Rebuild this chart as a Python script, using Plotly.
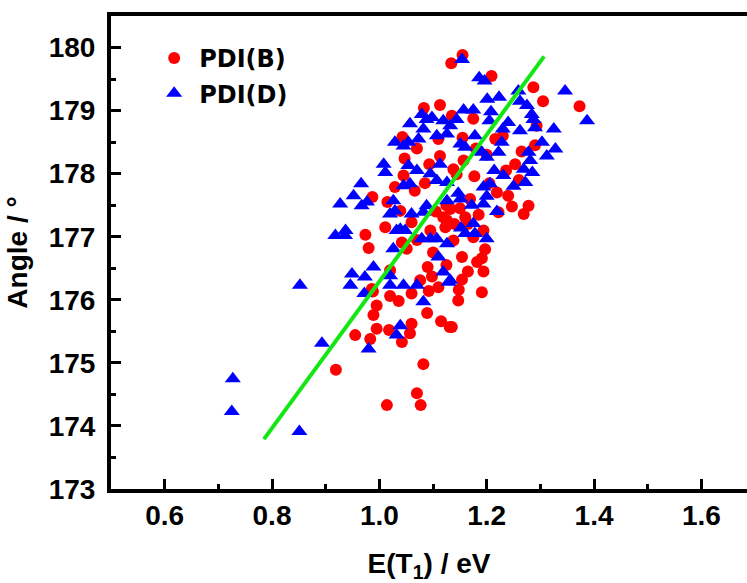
import plotly.graph_objects as go

# PDI(B) — red circles
b_x = [1.155, 1.134, 1.209, 1.287, 1.305, 1.373, 1.113, 1.083, 1.175, 1.293,
       1.043, 1.110, 1.155, 1.216, 1.290, 1.047, 1.113, 1.093, 1.138, 1.177,
       1.253, 1.236, 1.029, 1.066, 0.987, 1.015, 1.039, 1.132, 1.119, 1.219,
       1.247, 1.278, 1.269, 1.160, 1.011, 1.060, 1.095, 1.123, 1.138, 1.194,
       0.974, 0.980, 1.042, 1.051, 1.197, 1.191, 1.182, 1.154, 1.090, 1.098,
       1.076, 1.194, 1.154, 1.191, 1.148, 1.110, 1.092, 1.020, 1.036, 0.988,
       0.995, 0.989, 0.995, 0.955, 0.983, 1.018, 1.060, 1.057, 1.042, 1.089,
       1.115, 1.131, 1.082, 0.919, 1.070, 1.077, 1.014, 1.144, 1.169, 1.222,
       1.175, 1.147, 1.135, 1.135, 1.157, 1.045, 1.020, 0.986, 1.126, 1.125,
       1.150, 1.165, 1.105, 1.140, 1.185, 1.205, 1.240, 1.260, 1.070, 1.100,
       1.165, 1.125, 1.060, 1.200, 1.230, 1.265, 1.085, 1.180, 1.070]
b_y = [179.88, 179.75, 179.55, 179.37, 179.15, 179.07, 179.09, 179.04, 178.87, 178.76,
       178.58, 178.55, 178.57, 178.55, 178.45, 178.24, 178.28, 178.15, 178.07, 177.96,
       178.15, 178.05, 177.79, 177.73, 177.63, 177.55, 177.41, 177.44, 177.31, 177.70,
       177.48, 177.49, 177.36, 177.31, 177.15, 177.23, 177.10, 177.15, 176.94, 177.10,
       177.03, 176.82, 176.91, 176.81, 176.80, 176.66, 176.60, 176.68, 176.52, 176.37,
       176.31, 176.45, 176.32, 176.12, 176.16, 176.20, 176.14, 176.06, 175.98, 176.13,
       175.91, 175.76, 175.54, 175.44, 175.38, 175.52, 175.62, 175.47, 175.33, 175.79,
       175.66, 175.57, 174.98, 174.89, 174.52, 174.33, 174.33, 177.99, 177.60, 177.39,
       176.99, 175.99, 175.57, 178.92, 178.21, 177.97, 176.47, 176.17, 177.26, 177.50,
       177.45, 177.20, 177.40, 177.20, 177.35, 177.85, 177.65, 177.90, 176.95, 176.75,
       176.45, 176.55, 176.10, 178.30, 178.60, 178.35, 177.85, 178.40, 178.40]

# PDI(D) — blue triangles
d_x = [0.727, 0.725, 0.851, 0.852, 0.893, 0.980, 0.918, 0.937, 0.936, 0.927,
       0.952, 0.966, 0.977, 0.967, 1.008, 1.011, 1.029, 0.949, 0.973, 0.946,
       0.989, 0.972, 1.039, 1.032, 1.082, 1.020, 1.045, 1.070, 1.129, 1.026,
       1.020, 1.154, 1.186, 1.196, 1.346, 1.387, 1.201, 1.223, 1.259, 1.262,
       1.275, 1.284, 1.287, 1.290, 1.325, 1.303, 1.328, 1.312, 1.278, 1.262,
       1.240, 1.230, 1.208, 1.205, 1.175, 1.157, 1.144, 1.132, 1.119, 1.098,
       1.079, 1.088, 1.057, 1.082, 1.107, 1.126, 1.073, 1.054, 1.045, 1.151,
       1.160, 1.178, 1.191, 1.228, 1.222, 1.200, 1.214, 1.231, 1.281, 1.269,
       1.285, 1.272, 1.250, 1.054, 1.070, 1.095, 1.113, 1.126, 1.107, 1.045,
       1.057, 1.026, 1.029, 1.020, 1.060, 1.088, 1.082, 1.126, 1.151, 1.147,
       1.172, 1.194, 1.200, 1.194, 1.206, 1.219, 1.175, 1.152, 1.160, 1.178,
       1.200, 1.107, 1.095, 1.079, 1.126, 1.039, 1.048, 1.032, 1.110, 1.119,
       1.132]
d_y = [174.75, 174.23, 173.91, 176.23, 175.31, 175.22, 177.02, 177.10, 177.02, 177.52,
       177.65, 177.84, 177.55, 177.49, 178.15, 178.02, 178.50, 176.41, 176.36, 176.23,
       176.52, 176.10, 175.59, 175.44, 175.97, 176.23, 176.23, 176.23, 176.28, 176.81,
       176.38, 179.81, 179.52, 179.47, 179.31, 178.84, 179.18, 179.21, 179.31, 179.15,
       179.08, 178.94, 178.86, 178.73, 178.71, 178.50, 178.39, 178.28, 178.34, 178.68,
       178.81, 178.71, 178.98, 178.84, 179.01, 179.01, 178.86, 178.76, 178.84, 178.89,
       178.94, 178.86, 178.79, 178.71, 178.60, 178.63, 178.55, 178.50, 178.44, 178.47,
       178.42, 178.60, 178.34, 178.50, 178.34, 178.26, 178.05, 177.97, 178.21, 178.07,
       178.02, 177.86, 177.80, 178.13, 178.05, 178.00, 178.15, 177.86, 177.89, 177.81,
       177.84, 177.57, 177.41, 177.36, 177.36, 177.49, 177.39, 177.57, 177.60, 177.69,
       177.50, 177.52, 177.64, 177.79, 177.84, 177.40, 177.21, 177.14, 177.05, 177.05,
       176.97, 176.97, 176.97, 176.97, 176.89, 177.12, 177.10, 177.10, 176.68, 176.44,
       176.31]

# linear fit line
fit_x = [0.785, 1.307]
fit_y = [173.79, 179.86]

x_range = [0.5, 1.685]
y_range = [173, 180.5]

FONT = "Liberation Sans, Arial, sans-serif"

fig = go.Figure()
fig.add_trace(go.Scatter(x=b_x, y=b_y, mode="markers", name="PDI(B)",
                         marker=dict(symbol="circle", size=12, color="#ff0000"),
                         legendgroup="b"))
fig.add_trace(go.Scatter(x=d_x, y=d_y, mode="markers", name="PDI(D)",
                         marker=dict(symbol="triangle-up", size=14, color="#0000ff"),
                         legendgroup="d"))
fig.add_trace(go.Scatter(x=fit_x, y=fit_y, mode="lines", showlegend=False,
                         line=dict(color="#14e614", width=4)))

axis_common = dict(
    showline=True, linecolor="black", linewidth=4,
    ticks="inside", ticklen=10, tickwidth=3, tickcolor="black",
    showgrid=False, zeroline=False,
    tickfont=dict(family=FONT, size=28, color="black", weight="bold"),
)

fig.update_layout(
    width=747, height=583,
    margin=dict(l=111, r=0, t=16, b=94),
    paper_bgcolor="white", plot_bgcolor="white",
    showlegend=True,
    legend=dict(x=0.06, y=0.958, xanchor="left", yanchor="top",
                bgcolor="rgba(0,0,0,0)", tracegroupgap=1, itemwidth=40,
                font=dict(family="DejaVu Sans", size=24, color="black", weight="bold")),
    xaxis=dict(range=x_range, dtick=0.2, tick0=0, tickformat=".1f",
               mirror=True,
               minor=dict(dtick=0.1, ticks="inside", ticklen=5, tickwidth=3, tickcolor="black"),
               title=dict(text="E(T<sub>1</sub>) / eV", standoff=28,
                          font=dict(family=FONT, size=28, color="black", weight="bold")),
               ticklabelstandoff=-2,
               **axis_common),
    yaxis=dict(range=y_range, dtick=1, tick0=173,
               minor=dict(dtick=0.5, ticks="inside", ticklen=5, tickwidth=3, tickcolor="black"),
               title=dict(text="Angle / °", standoff=14,
                          font=dict(family=FONT, size=28, color="black", weight="bold")),
               ticklabelstandoff=6,
               **axis_common),
)

fig.write_html("out.html")
